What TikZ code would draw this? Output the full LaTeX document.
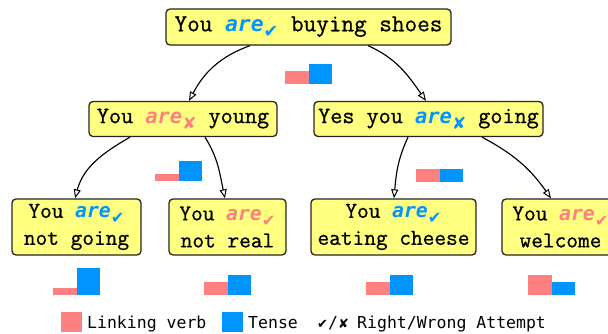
\documentclass[tikz,border=0pt]{standalone}
\usepackage{fontspec}
\usetikzlibrary{arrows.meta}
\newfontfamily\boxfont[FakeBold=0.8]{Latin Modern Mono}
\newfontfamily\arefont[Scale=0.872]{DejaVu Sans Mono}
\newfontfamily\chkfont[Scale=0.72]{DejaVu Sans}
\newfontfamily\legfont{DejaVu Sans Mono}
\newfontfamily\symfont{DejaVu Sans}
\definecolor{linkc}{RGB}{255,128,128}
\definecolor{tensec}{RGB}{0,148,255}
\definecolor{boxc}{RGB}{255,255,128}

% "are" with a right / wrong subscript mark
\newcommand\areok[1]{\textcolor{#1}{\arefont\bfseries\itshape are}\raisebox{-0.26em}{\textcolor{#1}{\chkfont ✔}}}
\newcommand\arebad[1]{\textcolor{#1}{\arefont\bfseries\itshape are}\raisebox{-0.26em}{\textcolor{#1}{\chkfont ✘}}}
% pair of bars: left x, bottom y, linking-verb height, tense height
\newcommand\barpair[4]{%
  \fill[linkc] (#1,#2) rectangle ++(23.5,#3);
  \fill[tensec] ({#1+23.5},#2) rectangle ++(23.5,#4);}

\tikzset{
  sent/.style={draw=black!85, line width=1.3pt, fill=boxc, rounded corners=4pt,
    inner sep=0pt, align=center, font=\boxfont\fontsize{22.7}{27}\selectfont},
  edge/.style={line width=1.15pt, -{Triangle[open, length=9pt, width=7pt, line width=1pt]}},
  legsq/.style={minimum width=21pt, minimum height=20pt, inner sep=0pt},
  legtxt/.style={anchor=base west, inner sep=0pt, font=\legfont\fontsize{16.5}{18}\selectfont},
}

\begin{document}
\begin{tikzpicture}[x=1pt, y=1pt]
\useasboundingbox (0,0) rectangle (608,333);

% sentence boxes
\node[sent, minimum width=285pt, minimum height=36pt,
      font=\boxfont\fontsize{24.5}{27}\selectfont] (root) at (308.5,306) {You \areok{tensec} buying shoes};
\node[sent, minimum width=188pt, minimum height=35pt,
      font=\boxfont\fontsize{23.5}{27}\selectfont] (l2a) at (183,214) {You \arebad{linkc} young};
\node[sent, minimum width=229pt, minimum height=35pt,
      font=\boxfont\fontsize{23.5}{27}\selectfont] (l2b) at (428.5,214) {Yes you \arebad{tensec} going};
\node[sent, minimum width=129pt, minimum height=56pt] (b1) at (76.5,106) {You \areok{tensec}\\not going};
\node[sent, minimum width=117pt, minimum height=56pt] (b2) at (227.5,106) {You \areok{linkc}\\not real};
\node[sent, minimum width=165pt, minimum height=56pt] (b3) at (393.5,106) {You \areok{tensec}\\eating cheese};
\node[sent, minimum width=117pt, minimum height=56pt] (b4) at (560.5,106) {You \areok{linkc}\\welcome};

% connectors
\draw[edge] ([xshift=-58.5pt]root.south) to[out=200, in=62] ([xshift=6pt]l2a.north);
\draw[edge] ([xshift=59.5pt]root.south) to[out=-24, in=125] ([xshift=-2.5pt]l2b.north);
\draw[edge] ([xshift=-53pt]l2a.south) to[out=210, in=75] ([xshift=-1.5pt]b1.north);
\draw[edge] ([xshift=22pt]l2a.south) to[out=-58, in=102] ([xshift=-2.5pt]b2.north);
\draw[edge] ([xshift=-20.5pt]l2b.south) to[out=245, in=85] ([xshift=0.5pt]b3.north);
\draw[edge] ([xshift=53.5pt]l2b.south) to[out=-28, in=125] ([xshift=-9.5pt]b4.north);

% score bars
\barpair{285}{249.5}{13}{20}
\barpair{155}{152}{7}{20}
\barpair{416}{151}{13}{13}
\barpair{53}{38}{7}{27}
\barpair{204}{38}{13}{20}
\barpair{366}{38}{13}{20}
\barpair{528}{38}{20}{13}

% legend
\node[legsq, fill=linkc] (lk) at (71.5,11) {};
\node[legtxt] (lkt) at (87,5) {Linking verb};
\node[legsq, fill=tensec] (tn) at (232.5,11) {};
\node[legtxt] (tnt) at (248,5) {Tense};
\node[legtxt] (mk) at (317,5) {{\symfont\fontsize{13}{13}\selectfont ✔}/{\symfont\fontsize{13}{13}\selectfont ✘}};
\node[legtxt] (mkt) at (357,5) {Right/Wrong Attempt};
\end{tikzpicture}
\end{document}
